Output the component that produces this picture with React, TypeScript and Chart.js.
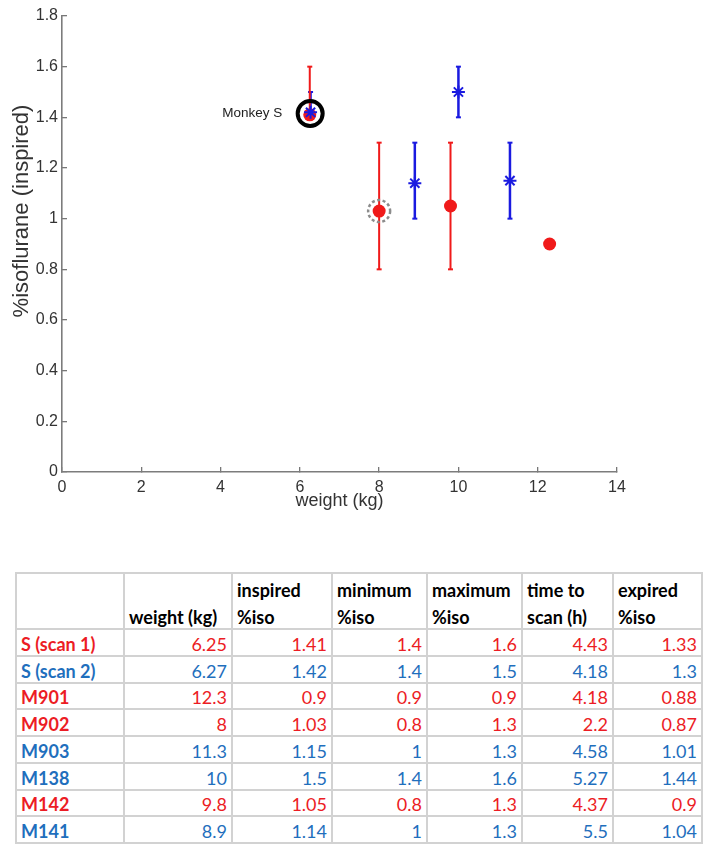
import React, { useEffect, useRef } from "react";
import { Chart, registerables } from "chart.js";

Chart.register(...registerables);

// ---------- data ----------
const subjects = ["S (scan 1)", "S (scan 2)", "M901", "M902", "M903", "M138", "M142", "M141"];
const groups = ["red", "blue", "red", "red", "blue", "blue", "red", "blue"];
const weights = [6.25, 6.27, 12.3, 8, 11.3, 10, 9.8, 8.9];
const inspiredIso = [1.41, 1.42, 0.9, 1.03, 1.15, 1.5, 1.05, 1.14];
const minimumIso = [1.4, 1.4, 0.9, 0.8, 1, 1.4, 0.8, 1];
const maximumIso = [1.6, 1.5, 0.9, 1.3, 1.3, 1.6, 1.3, 1.3];
const timeToScan = [4.43, 4.18, 4.18, 2.2, 4.58, 5.27, 4.37, 5.5];
const expiredIso = [1.33, 1.3, 0.88, 0.87, 1.01, 1.44, 0.9, 1.04];

const columnHeaders = ["", "weight (kg)", "inspired %iso", "minimum %iso", "maximum %iso", "time to scan (h)", "expired %iso"];

const xTickValues = [0, 2, 4, 6, 8, 10, 12, 14];
const xTickLabels = ["0", "2", "4", "6", "8", "10", "12", "14"];
const yTickValues = [0, 0.2, 0.4, 0.6, 0.8, 1, 1.2, 1.4, 1.6, 1.8];
const yTickLabels = ["0", "0.2", "0.4", "0.6", "0.8", "1", "1.2", "1.4", "1.6", "1.8"];

const xTitle = "weight (kg)";
const yTitle = "%isoflurane (inspired)";
const calloutLabel = "Monkey S";
const calloutSubjects = ["S (scan 1)", "S (scan 2)"];
const dashedSubject = "M902";

// ---------- styles ----------
const PLOT_RED = "#f01a1a";
const PLOT_BLUE = "#1a1ae0";
const TABLE_RED = "#ec1c24";
const TABLE_BLUE = "#1f6fbd";
const AXIS_FONT = "'Liberation Sans', Arial, sans-serif";
const TABLE_FONT = "Lato, 'Open Sans', sans-serif";

function errorBarData(g: string) {
  const out: { x: number; y: number | null }[] = [];
  weights.forEach((w, i) => {
    if (groups[i] !== g) return;
    out.push({ x: w, y: minimumIso[i] });
    out.push({ x: w, y: maximumIso[i] });
    out.push({ x: w, y: null });
  });
  return out;
}

function pointData(g: string) {
  return weights
    .map((w, i) => ({ x: w, y: inspiredIso[i], g: groups[i] }))
    .filter((p) => p.g === g)
    .map((p) => ({ x: p.x, y: p.y }));
}

const annotationPlugin = {
  id: "annotations",
  afterDatasetsDraw(chart: any) {
    const { ctx, scales } = chart;
    const xs = scales.x;
    const ys = scales.y;
    ctx.save();
    // Monkey S highlight
    const idx = calloutSubjects.map((s) => subjects.indexOf(s));
    const mx = idx.reduce((a, i) => a + weights[i], 0) / idx.length;
    const my = idx.reduce((a, i) => a + inspiredIso[i], 0) / idx.length;
    const cx = xs.getPixelForValue(mx);
    const cy = ys.getPixelForValue(my);
    ctx.beginPath();
    ctx.arc(cx, cy, 12.5, 0, Math.PI * 2);
    ctx.lineWidth = 4;
    ctx.strokeStyle = "#000";
    ctx.stroke();
    ctx.font = `13.5px ${AXIS_FONT}`;
    ctx.fillStyle = "#222";
    ctx.textAlign = "right";
    ctx.textBaseline = "middle";
    ctx.fillText(calloutLabel, cx - 28, cy);
    // dashed circle
    const d = subjects.indexOf(dashedSubject);
    const dx = xs.getPixelForValue(weights[d]);
    const dy = ys.getPixelForValue(inspiredIso[d]);
    ctx.beginPath();
    ctx.setLineDash([3, 2.5]);
    ctx.arc(dx, dy, 11, 0, Math.PI * 2);
    ctx.lineWidth = 2.5;
    ctx.strokeStyle = "#8c8c8c";
    ctx.stroke();
    ctx.setLineDash([]);
    // y title
    const area = chart.chartArea;
    ctx.translate(area.left - 40, (area.top + area.bottom) / 2 - 33);
    ctx.rotate(-Math.PI / 2);
    ctx.font = `22px ${AXIS_FONT}`;
    ctx.fillStyle = "#333";
    ctx.textAlign = "center";
    ctx.textBaseline = "middle";
    ctx.fillText(yTitle, 0, 0);
    ctx.restore();
  },
};

function ScatterChart() {
  const ref = useRef<HTMLCanvasElement | null>(null);
  useEffect(() => {
    if (!ref.current) return;
    const common = { showLine: false, pointHoverRadius: 0 };
    const errCommon = {
      showLine: true,
      borderWidth: 2,
      pointStyle: "line",
      pointRadius: 2.5,
      pointBorderWidth: 2,
      pointHoverRadius: 0,
      spanGaps: false,
      order: 5,
    };
    const chart = new Chart(ref.current, {
      type: "scatter",
      data: {
        datasets: [
          { ...errCommon, data: errorBarData("red"), borderColor: PLOT_RED, pointBorderColor: PLOT_RED, backgroundColor: PLOT_RED },
          { ...errCommon, data: errorBarData("blue"), borderColor: PLOT_BLUE, pointBorderColor: PLOT_BLUE, backgroundColor: PLOT_BLUE, borderWidth: 2.5 },
          {
            ...common,
            data: pointData("red"),
            pointStyle: "circle",
            pointRadius: 6.5,
            pointBorderWidth: 0,
            backgroundColor: PLOT_RED,
            borderColor: PLOT_RED,
            order: 2,
          },
          {
            ...common,
            data: pointData("blue"),
            pointStyle: "star",
            pointRadius: 6.5,
            pointBorderWidth: 2,
            backgroundColor: PLOT_BLUE,
            borderColor: PLOT_BLUE,
            order: 1,
          },
        ] as any,
      },
      options: {
        responsive: false,
        animation: false,
        events: [],
        layout: { padding: { top: 16, right: 95, left: 0, bottom: 0 } },
        plugins: { legend: { display: false }, tooltip: { enabled: false } },
        scales: {
          x: {
            type: "linear",
            min: 0,
            max: 14,
            afterBuildTicks: (s: any) => {
              s.ticks = xTickValues.map((v) => ({ value: v }));
            },
            ticks: {
              padding: 11,
              color: "#333",
              font: { family: AXIS_FONT, size: 16 },
              callback: (_v: any, i: number) => xTickLabels[i],
              maxRotation: 0,
            },
            grid: { drawOnChartArea: false, drawTicks: true, tickLength: -5, color: "#777", lineWidth: 1.3 },
            border: { display: true, color: "#7c7c7c", width: 1.6 },
            title: {
              display: true,
              text: xTitle,
              color: "#333",
              font: { family: AXIS_FONT, size: 18 },
              padding: { top: 0, bottom: 8 },
            },
            afterFit: (s: any) => {
              s.height = 48;
              s.paddingLeft = 0;
              s.paddingRight = 0;
            },
          },
          y: {
            type: "linear",
            min: 0,
            max: 1.8,
            afterBuildTicks: (s: any) => {
              s.ticks = yTickValues.map((v) => ({ value: v }));
            },
            ticks: {
              padding: 9,
              color: "#333",
              font: { family: AXIS_FONT, size: 16 },
              callback: (_v: any, i: number) => yTickLabels[i],
            },
            grid: { drawOnChartArea: false, drawTicks: true, tickLength: -5, color: "#777", lineWidth: 1.3 },
            border: { display: true, color: "#7c7c7c", width: 1.6 },
            afterFit: (s: any) => {
              s.width = 62;
              s.paddingTop = 0;
              s.paddingBottom = 0;
            },
          },
        },
      } as any,
      plugins: [annotationPlugin],
    });
    return () => chart.destroy();
  }, []);
  return <canvas ref={ref} width={712} height={520} style={{ position: "absolute", left: 0, top: 0, width: 712, height: 520 }} />;
}

const colWidths = [108, 108, 100, 95, 95, 91, 89];

function DataTable() {
  const cellBorder = "2px solid #d2d2d2";
  const base: React.CSSProperties = {
    border: cellBorder,
    padding: "0 4px",
    overflow: "hidden",
    whiteSpace: "normal",
  };
  const fmt = (v: number) => String(v);
  return (
    <table
      style={{
        position: "absolute",
        left: 15,
        top: 572,
        borderCollapse: "collapse",
        tableLayout: "fixed",
        width: 688,
        fontFamily: TABLE_FONT,
        fontSize: 18,
      }}
    >
      <colgroup>
        {colWidths.map((w, i) => (
          <col key={i} style={{ width: w }} />
        ))}
      </colgroup>
      <tbody>
        <tr style={{ height: 55 }}>
          {columnHeaders.map((h, i) => (
            <td key={i} style={{ ...base, fontWeight: 700, color: "#000", verticalAlign: "bottom", lineHeight: "27px", padding: "0 4px" }}>
              <div style={{ position: "relative", top: 3 }}>{h}</div>
            </td>
          ))}
        </tr>
        {subjects.map((s, i) => {
          const c = groups[i] === "red" ? TABLE_RED : TABLE_BLUE;
          const vals = [weights[i], inspiredIso[i], minimumIso[i], maximumIso[i], timeToScan[i], expiredIso[i]];
          return (
            <tr key={s} style={{ height: 26.75 }}>
              <td style={{ ...base, fontWeight: 700, color: c, lineHeight: "22px" }}>
                <div style={{ position: "relative", top: 1.5 }}>{s}</div>
              </td>
              {vals.map((v, j) => (
                <td key={j} style={{ ...base, color: c, textAlign: "right", lineHeight: "22px" }}>
                  <div style={{ position: "relative", top: 1.5 }}>{fmt(v)}</div>
                </td>
              ))}
            </tr>
          );
        })}
      </tbody>
    </table>
  );
}

export default function App() {
  return (
    <div style={{ position: "absolute", left: 0, top: 0, width: 712, height: 852, background: "#fff" }}>
      <ScatterChart />
      <DataTable />
    </div>
  );
}
